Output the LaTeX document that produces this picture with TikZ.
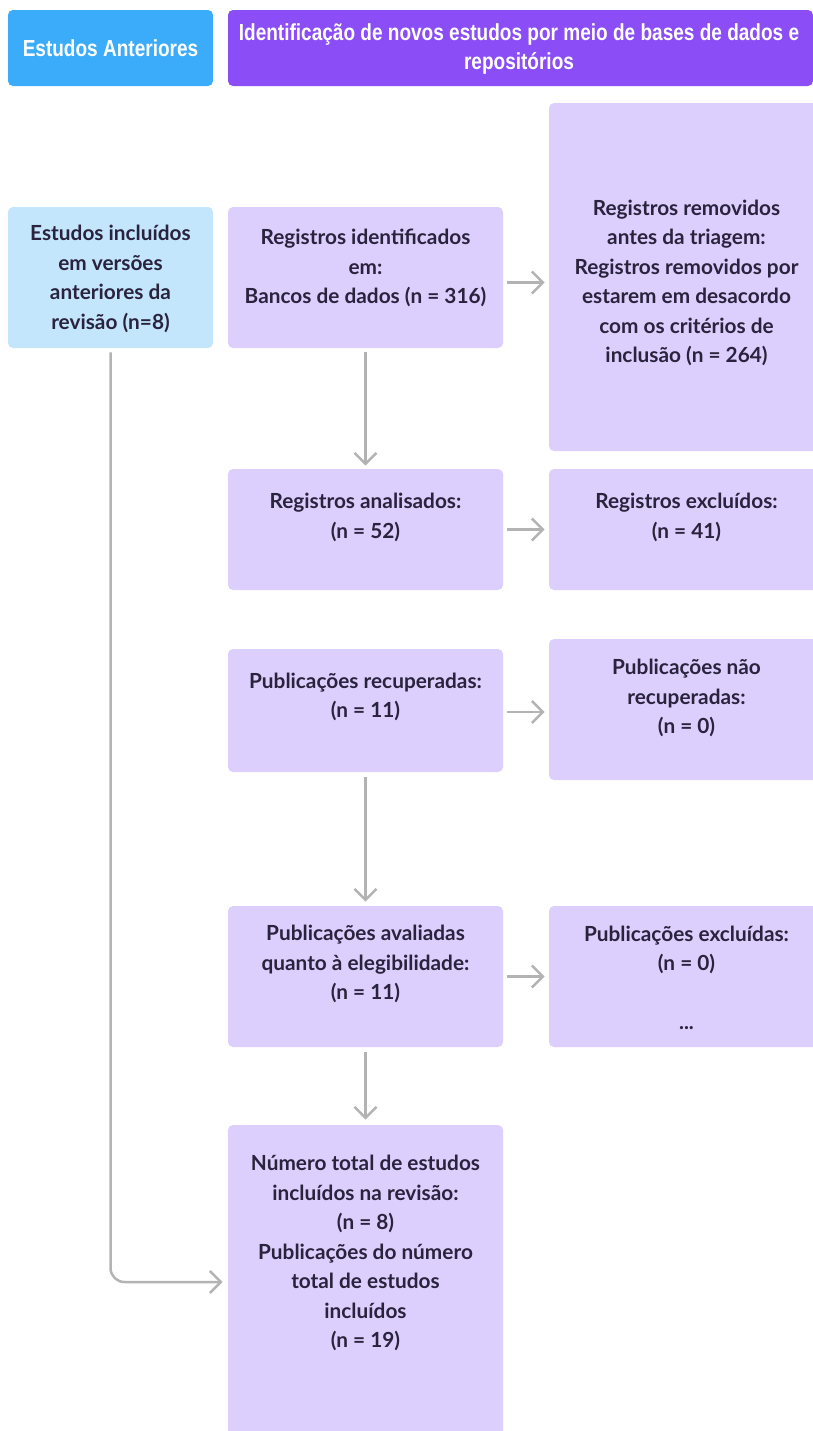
\documentclass[tikz,border=0pt]{standalone}
\usepackage{fontspec}
\setmainfont{Lato}
\newfontfamily\headfont[FakeStretch=0.82]{Liberation Sans}
\usetikzlibrary{arrows.meta,fit}

\definecolor{hdrblue}{HTML}{3AACF9}
\definecolor{boxblue}{HTML}{C3E6FD}
\definecolor{hdrpurple}{HTML}{8A4DF6}
\definecolor{boxpurple}{HTML}{DDCFFD}
\definecolor{linkgray}{HTML}{B3B3B3}
\definecolor{inktext}{HTML}{2A233D}

\tikzset{
  panel/.style={inner sep=0pt, rounded corners=2.5pt, fit={#1}},
  hdrA/.style={fill=hdrblue},
  hdrB/.style={fill=hdrpurple},
  stage/.style={fill=boxpurple},
  prior/.style={fill=boxblue},
  hdrtext/.style={align=center, text=white, inner sep=0pt,
    font=\headfont\bfseries\fontsize{11.6pt}{14.5pt}\selectfont},
  bodytext/.style={align=center, text=inktext, inner sep=0pt,
    font=\bfseries\fontsize{10.4pt}{14.75pt}\selectfont},
  link/.style={draw=linkgray, line width=1.25pt,
    -{Straight Barb[length=5.5pt,width=11pt]}},
}

\begin{document}
\begin{tikzpicture}[x=0.5pt, y=-0.5pt]
  \useasboundingbox (0,0) rectangle (813,1431);
  \clip (0,0) rectangle (813,1431);

  % column headers
  \node[panel={(8,10) (213,86)}, hdrA] (hA) {};
  \node[panel={(228,10) (813,86)}, hdrB] (hB) {};
  \node[hdrtext] (hAt) at (110.5,48) {Estudos Anteriores};
  \node[hdrtext] (hBt) at (519,48.5) {Identificação de novos estudos por meio de bases de dados e\\repositórios};

  % previous studies
  \node[panel={(8,207) (213,348)}, prior] (prev) {};
  \node[bodytext] (prevt) at (110.5,279) {Estudos incluídos\\em versões\\anteriores da\\revisão (n=8)};

  % main column
  \node[panel={(228,207) (503,348)}, stage] (s1) {};
  \node[panel={(228,469) (503,590)}, stage] (s2) {};
  \node[panel={(228,649) (503,772)}, stage] (s3) {};
  \node[panel={(228,906) (503,1047)}, stage] (s4) {};
  \node[panel={(228,1125) (503,1439)}, stage] (s5) {};

  \node[bodytext] (s1t) at (365.5,268) {Registros identificados\\em:\\Bancos de dados (n = 316)};
  \node[bodytext] (s2t) at (365.5,517.5) {Registros analisados:\\(n = 52)};
  \node[bodytext] (s3t) at (365.5,697) {Publicações recuperadas:\\(n = 11)};
  \node[bodytext] (s4t) at (365.5,964) {Publicações avaliadas\\quanto à elegibilidade:\\(n = 11)};
  \node[bodytext] (s5t) at (365.5,1253) {Número total de estudos\\incluídos na revisão:\\(n = 8)\\Publicações do número\\total de estudos\\incluídos\\(n = 19)};

  % side column
  \node[panel={(549,103) (824,451)}, stage] (r1) {};
  \node[panel={(549,469) (824,590)}, stage] (r2) {};
  \node[panel={(549,639) (824,780)}, stage] (r3) {};
  \node[panel={(549,906) (824,1047)}, stage] (r4) {};

  \node[bodytext] (r1t) at (686.5,283) {Registros removidos\\antes da triagem:\\Registros removidos por\\estarem em desacordo\\com os critérios de\\inclusão (n = 264)};
  \node[bodytext] (r2t) at (686.5,517.5) {Registros excluídos:\\(n = 41)};
  \node[bodytext] (r3t) at (686.5,698) {Publicações não\\recuperadas:\\(n = 0)};
  \node[bodytext] (r4t) at (686.5,978) {Publicações excluídas:\\(n = 0)\\\mbox{}\\...};

  % vertical flow
  \draw[link, shorten <=2pt, shorten >=1.5pt] (s1.south) -- (s2.north);
  \draw[link, shorten <=2.5pt, shorten >=2pt] (s3.south) -- (s4.north);
  \draw[link, shorten <=2.5pt, shorten >=2.5pt] (s4.south) -- (s5.north);

  % side exits
  \draw[link, shorten <=2pt, shorten >=2pt] ([yshift=-2.5pt]s1.east) -- ([yshift=-2.5pt]s1.east -| r1.west);
  \draw[link, shorten <=2pt, shorten >=2pt] (s2.east) -- (s2.east -| r2.west);
  \draw[link, shorten <=2pt, shorten >=2pt] ([yshift=-0.75pt]s3.east) -- ([yshift=-0.75pt]s3.east -| r3.west);
  \draw[link, shorten <=2pt, shorten >=2pt] (s4.east) -- (s4.east -| r4.west);

  % previous studies joining the total
  \draw[link, rounded corners=7pt, shorten <=2pt, shorten >=2.5pt] (prev.south) |- (s5.west);
\end{tikzpicture}
\end{document}
